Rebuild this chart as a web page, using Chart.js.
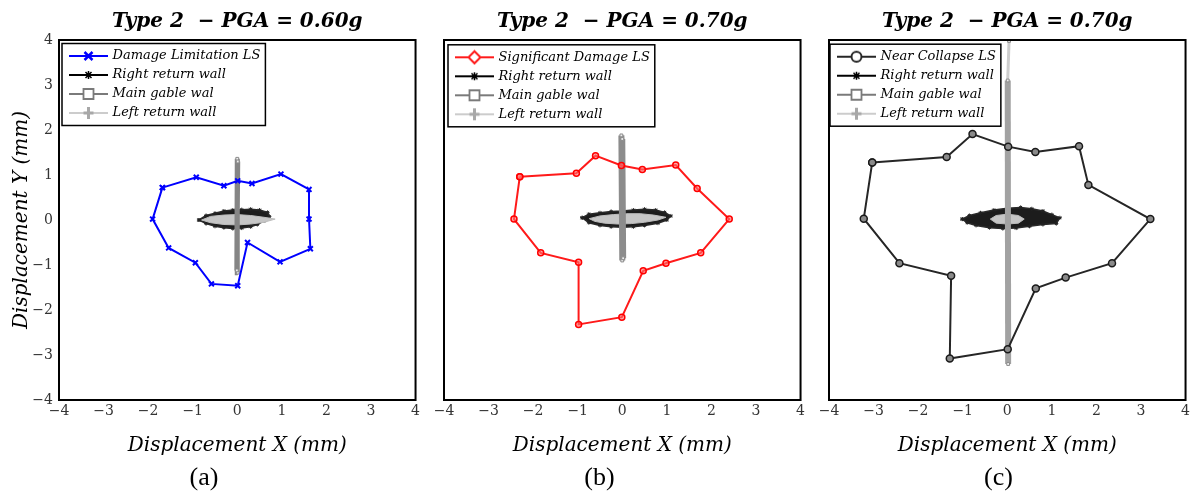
<!DOCTYPE html>
<html>
<head>
<meta charset="utf-8">
<script src="https://cdn.jsdelivr.net/npm/chart.js@4.4.1/dist/chart.umd.min.js"></script>
<style>
  html, body { margin: 0; padding: 0; background: #fff; }
  body { width: 1193px; height: 501px; position: relative; overflow: hidden; }
  canvas { position: absolute; top: 0; }
</style>
</head>
<body>
<canvas id="chart-a" width="433" height="501" style="left:-10px"></canvas>
<canvas id="chart-b" width="412" height="501" style="left:396px"></canvas>
<canvas id="chart-c" width="384" height="501" style="left:809px"></canvas>
<script>
// axis ticks (both axes)
const axisTicks = [-4, -3, -2, -1, 0, 1, 2, 3, 4];

// titles and names
const panelTitles = ['Type 2  \u2212 PGA = 0.60g', 'Type 2  \u2212 PGA = 0.70g', 'Type 2  \u2212 PGA = 0.70g'];
const panelLetters = ['(a)', '(b)', '(c)'];
const lsNames = ['Damage Limitation LS', 'Significant Damage LS', 'Near Collapse LS'];
const wallNames = ['Right return wall', 'Main gable wal', 'Left return wall'];

// (a) Damage Limitation LS  [x, y] mm
const dlEnvelope = [[-1.68, 0.72], [-0.92, 0.95], [-0.30, 0.76], [0.01, 0.87], [0.33, 0.81], [0.98, 1.02],
  [1.61, 0.68], [1.61, 0.02], [1.64, -0.64], [0.96, -0.93], [0.23, -0.50], [0.01, -1.46],
  [-0.58, -1.42], [-0.94, -0.95], [-1.54, -0.62], [-1.90, 0.02]];
const rightWallA = [[-0.86, 0.00], [-0.70, 0.10], [-0.50, 0.15], [-0.30, 0.20], [-0.10, 0.22], [0.10, 0.23],
  [0.30, 0.24], [0.50, 0.22], [0.68, 0.17], [0.72, 0.08], [0.60, -0.02], [0.45, -0.10], [0.30, -0.15],
  [0.10, -0.18], [-0.10, -0.19], [-0.30, -0.17], [-0.50, -0.14], [-0.70, -0.08]];
const mainWallA = [[0.01, -1.17], [0.00, 1.36], [-0.01, -1.12], [0.01, 1.30]];
const leftWallA = [[-0.80, 0.00], [-0.60, 0.08], [-0.30, 0.11], [0.00, 0.12], [0.30, 0.10], [0.60, 0.06],
  [0.85, 0.02], [0.60, -0.05], [0.30, -0.09], [0.00, -0.11], [-0.30, -0.10], [-0.60, -0.06]];

// (b) Significant Damage LS
const sdEnvelope = [[-2.30, 0.96], [-1.03, 1.04], [-0.60, 1.43], [-0.02, 1.21], [0.45, 1.12], [1.20, 1.22],
  [1.68, 0.70], [2.40, 0.02], [1.76, -0.73], [0.98, -0.96], [0.47, -1.13], [-0.01, -2.16],
  [-0.98, -2.32], [-0.98, -0.94], [-1.83, -0.73], [-2.43, 0.02]];
const rightWallB = [[-0.90, 0.05], [-0.75, 0.13], [-0.50, 0.16], [-0.25, 0.19], [0.00, 0.20], [0.25, 0.22],
  [0.50, 0.24], [0.75, 0.22], [0.95, 0.17], [1.09, 0.09], [1.00, 0.00], [0.80, -0.07], [0.50, -0.12],
  [0.25, -0.15], [0.00, -0.16], [-0.25, -0.15], [-0.50, -0.12], [-0.75, -0.06]];
const mainWallB = [[0.00, -0.90], [-0.02, 1.88], [0.02, -0.85], [0.00, 1.80]];
const leftWallB = [[-0.74, 0.03], [-0.50, 0.09], [-0.20, 0.12], [0.10, 0.14], [0.40, 0.14], [0.70, 0.11],
  [0.98, 0.06], [0.80, 0.00], [0.50, -0.05], [0.20, -0.08], [-0.10, -0.09], [-0.40, -0.07], [-0.62, -0.03]];

// (c) Near Collapse LS
const ncEnvelope = [[-3.03, 1.28], [-1.36, 1.40], [-0.78, 1.91], [0.02, 1.63], [0.63, 1.51], [1.61, 1.64],
  [1.82, 0.78], [3.21, 0.02], [2.35, -0.96], [1.31, -1.28], [0.64, -1.52], [0.01, -2.87],
  [-1.29, -3.08], [-1.26, -1.24], [-2.42, -0.96], [-3.22, 0.03]];
const rightWallC = [[-1.01, 0.02], [-0.85, 0.10], [-0.60, 0.16], [-0.30, 0.22], [0.00, 0.26], [0.30, 0.28],
  [0.55, 0.25], [0.80, 0.20], [1.00, 0.12], [1.18, 0.05], [1.10, -0.08], [0.80, -0.10], [0.50, -0.14],
  [0.20, -0.18], [-0.10, -0.19], [-0.40, -0.17], [-0.70, -0.12], [-0.90, -0.06]];
const mainWallC = [[0.02, -3.20], [0.01, 3.10], [0.04, 3.98]];
const leftWallC = [[-0.38, 0.02], [-0.25, 0.10], [0.00, 0.13], [0.25, 0.10], [0.38, 0.02], [0.25, -0.07],
  [0.00, -0.09], [-0.25, -0.07]];

Chart.defaults.font.family = 'DejaVu Serif';

const mathFont = {family: 'DejaVu Serif', size: 20, style: 'italic', lineHeight: 1.2};
const tickFont = {family: 'DejaVu Serif', size: 14};

/*
  panel settings (layout only)
*/
const panels = [
  {id: 'chart-a', envelope: dlEnvelope, walls: [rightWallA, mainWallA, leftWallA],
    lsColor: '#0000ff', lsMarker: 'x', yWidth: 69, showY: true, legendX: 7, legendY: 3.5,
    gable: {color: '#858585', width: 5},
    point: {pointStyle: 'crossRot', pointRadius: 3.5, pointBorderWidth: 2, pointBorderColor: '#0000ff'}},
  {id: 'chart-b', envelope: sdEnvelope, walls: [rightWallB, mainWallB, leftWallB],
    lsColor: '#ff1a1a', lsMarker: 'diamond', yWidth: 48, showY: false, legendX: 8, legendY: 4.8,
    gable: {color: '#8c8c8c', width: 6},
    point: {pointStyle: 'circle', pointRadius: 3, pointBorderWidth: 1.5, pointBorderColor: '#ff0000', pointBackgroundColor: 'rgba(255,110,110,0.6)'}},
  {id: 'chart-c', envelope: ncEnvelope, walls: [rightWallC, mainWallC, leftWallC],
    lsColor: '#262626', lsMarker: 'circle', yWidth: 20, showY: false, legendX: 5, legendY: 4.2,
    gable: {color: '#a2a2a2', width: 6},
    point: {pointStyle: 'circle', pointRadius: 3.5, pointBorderWidth: 1.5, pointBorderColor: '#1a1a1a', pointBackgroundColor: '#8a8a8a'}}
];

/*
  legend icon: line with marker in the middle
*/
function makeIcon(lineColor, marker, markerColor) {
  const c = document.createElement('canvas');
  c.width = 44;
  c.height = 16;
  const ctx = c.getContext('2d');
  ctx.strokeStyle = lineColor;
  ctx.lineWidth = 2;
  ctx.beginPath();
  ctx.moveTo(5, 8);
  ctx.lineTo(44, 8);
  ctx.stroke();

  const cx = 24.5, cy = 8;
  ctx.strokeStyle = markerColor;
  ctx.fillStyle = '#fff';
  ctx.beginPath();
  if (marker == 'x') {
    ctx.lineWidth = 2.5;
    ctx.moveTo(cx - 4, cy - 4); ctx.lineTo(cx + 4, cy + 4);
    ctx.moveTo(cx + 4, cy - 4); ctx.lineTo(cx - 4, cy + 4);
    ctx.stroke();
  } else if (marker == 'star') {
    ctx.lineWidth = 1.5;
    ctx.moveTo(cx - 4, cy); ctx.lineTo(cx + 4, cy);
    ctx.moveTo(cx - 3, cy - 3); ctx.lineTo(cx + 3, cy + 3);
    ctx.moveTo(cx + 3, cy - 3); ctx.lineTo(cx - 3, cy + 3);
    ctx.moveTo(cx, cy - 4); ctx.lineTo(cx, cy + 4);
    ctx.stroke();
  } else if (marker == 'square') {
    ctx.lineWidth = 1.8;
    ctx.rect(cx - 5, cy - 5, 10, 10);
    ctx.fill();
    ctx.stroke();
  } else if (marker == 'plus') {
    ctx.lineWidth = 3;
    ctx.moveTo(cx - 5, cy); ctx.lineTo(cx + 5, cy);
    ctx.moveTo(cx, cy - 6); ctx.lineTo(cx, cy + 6);
    ctx.stroke();
  } else if (marker == 'diamond') {
    ctx.lineWidth = 2;
    ctx.moveTo(cx, cy - 6); ctx.lineTo(cx + 6, cy); ctx.lineTo(cx, cy + 6); ctx.lineTo(cx - 6, cy);
    ctx.closePath();
    ctx.fill();
    ctx.stroke();
  } else if (marker == 'circle') {
    ctx.lineWidth = 2;
    ctx.arc(cx, cy, 5, 0, Math.PI * 2);
    ctx.fill();
    ctx.stroke();
  }
  return c;
}

function closed(points) {
  return points.concat([points[0]]).map(p => ({x: p[0], y: p[1]}));
}

function open(points) {
  return points.map(p => ({x: p[0], y: p[1]}));
}

/*
  frame of the plot and legend box, legend placed inside the plot
*/
function makeFramePlugin(panel) {
  return {
    id: 'frame',
    afterLayout(chart) {
      const legend = chart.legend;
      const area = chart.chartArea;
      const pad = legend.options.labels.padding;
      legend.left = area.left + panel.legendX - pad;
      legend.top = area.top + panel.legendY;
      legend.right = area.right;
      legend.bottom = area.bottom;
    },
    afterDraw(chart) {
      const ctx = chart.ctx;
      const area = chart.chartArea;
      const legend = chart.legend;
      const pad = legend.options.labels.padding;
      const size = legend.options.labels.font.size;
      const count = legend.legendItems.length;
      const maxW = Math.max(...legend.legendHitBoxes.map(h => h.width));
      const x0 = legend.left + pad;
      const firstY = legend.top + pad + size / 2;
      const lastY = firstY + (count - 1) * (size + pad);
      ctx.save();
      ctx.strokeStyle = '#000';
      ctx.lineWidth = 1.5;
      ctx.strokeRect(x0 - 4, firstY - 12.5, maxW + 9, lastY - firstY + 25);
      ctx.lineWidth = 2;
      ctx.strokeRect(area.left, area.top, area.right - area.left, area.bottom - area.top);
      ctx.restore();
    }
  };
}

/*
  draw one panel
*/
function drawPanel(panel, i) {
  const icons = [
    makeIcon(panel.lsColor, panel.lsMarker, panel.lsColor),
    makeIcon('#000', 'star', '#000'),
    makeIcon('#7a7a7a', 'square', '#7a7a7a'),
    makeIcon('#cccccc', 'plus', '#a8a8a8')
  ];

  const datasets = [
    Object.assign({
      label: lsNames[i],
      data: closed(panel.envelope),
      showLine: true,
      borderColor: panel.lsColor,
      borderWidth: 2,
      order: 0
    }, panel.point),
    {
      label: wallNames[0],
      data: closed(panel.walls[0]),
      showLine: true,
      fill: 'shape',
      backgroundColor: '#1c1c1c',
      borderColor: '#2a2a2a',
      borderWidth: 1.5,
      pointStyle: 'star',
      pointRadius: 2,
      pointBorderWidth: 1,
      pointBorderColor: '#222',
      order: 3
    },
    {
      label: wallNames[1],
      data: open(panel.walls[1]),
      showLine: true,
      borderColor: panel.gable.color,
      borderWidth: panel.gable.width,
      segment: {
        borderColor: c => c.p0.parsed.y > 3 ? '#cdcdcd' : undefined,
        borderWidth: c => c.p0.parsed.y > 3 ? 3 : undefined
      },
      pointStyle: 'rect',
      pointRadius: 2,
      pointBorderWidth: 1,
      pointBackgroundColor: '#eee',
      pointBorderColor: '#8a8a8a',
      order: 1
    },
    {
      label: wallNames[2],
      data: closed(panel.walls[2]),
      showLine: true,
      fill: 'shape',
      backgroundColor: '#c6c6c6',
      borderColor: '#bdbdbd',
      borderWidth: 1,
      pointRadius: 0,
      order: 2
    }
  ];

  new Chart(document.getElementById(panel.id), {
    type: 'scatter',
    data: {datasets: datasets},
    options: {
      responsive: false,
      animation: false,
      events: [],
      layout: {padding: {left: 0, right: 5, top: 0, bottom: 0}},
      scales: {
        x: {
          type: 'linear',
          min: -4,
          max: 4,
          afterBuildTicks: s => { s.ticks = axisTicks.map(v => ({value: v})); },
          afterFit: s => { s.height = 60.4; },
          grid: {display: false, drawTicks: false},
          border: {display: false},
          ticks: {
            font: tickFont, color: '#333', padding: 3, maxRotation: 0, autoSkip: false,
            callback: v => String(v).replace('-', '\u2212')
          },
          title: {display: true, text: 'Displacement X (mm)', font: mathFont, color: '#000', padding: {top: 0, bottom: 3}}
        },
        y: {
          type: 'linear',
          min: -4,
          max: 4,
          afterBuildTicks: s => { s.ticks = axisTicks.map(v => ({value: v})); },
          afterFit: s => { s.width = panel.yWidth; },
          grid: {display: false, drawTicks: false},
          border: {display: false},
          ticks: {
            display: panel.showY,
            font: tickFont, color: '#333', padding: 6, autoSkip: false,
            callback: v => String(v).replace('-', '\u2212')
          },
          title: {display: panel.showY, text: 'Displacement Y (mm)', font: mathFont, color: '#000', padding: {top: 20, bottom: 0}}
        }
      },
      plugins: {
        title: {
          display: true,
          text: panelTitles[i],
          fullSize: false,
          font: {family: 'DejaVu Serif', size: 20, weight: 'bold', style: 'italic', lineHeight: 1.2},
          color: '#000',
          padding: {top: 9.4, bottom: 6.6}
        },
        subtitle: {
          display: true,
          text: panelLetters[i],
          position: 'bottom',
          fullSize: true,
          font: {family: 'Liberation Serif', size: 26, weight: 'normal', lineHeight: 1.2},
          color: '#000',
          padding: {top: 2, bottom: 7.4}
        },
        legend: {
          display: true,
          position: 'chartArea',
          align: 'start',
          labels: {
            usePointStyle: true,
            pointStyleWidth: 40,
            padding: 6,
            color: '#000',
            font: {family: 'DejaVu Serif', size: 13, style: 'italic'},
            generateLabels: chart => chart.data.datasets.map((ds, k) => ({
              text: ds.label,
              pointStyle: icons[k],
              datasetIndex: k,
              hidden: false,
              lineWidth: 0,
              fillStyle: 'transparent',
              strokeStyle: 'transparent',
              fontColor: '#000'
            }))
          }
        },
        tooltip: {enabled: false}
      }
    },
    plugins: [makeFramePlugin(panel)]
  });
}

panels.forEach((p, i) => drawPanel(p, i));
</script>
</body>
</html>
